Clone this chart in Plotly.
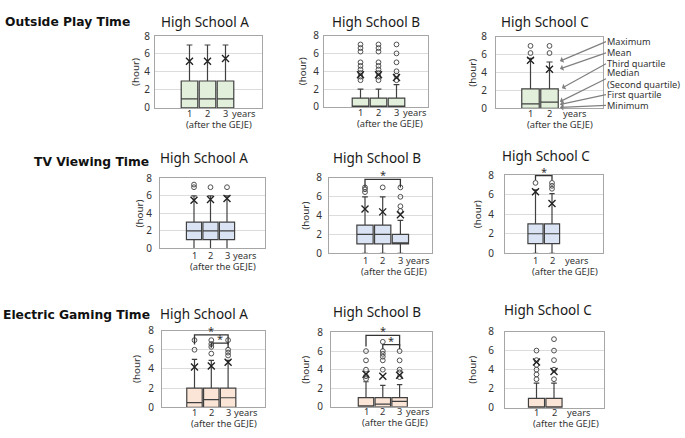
import plotly.graph_objects as go

W, H = 685, 438

# ---------------- data ----------------
row_titles = ["Outside Play Time", "TV Viewing Time", "Electric Gaming Time"]
school_names = ["High School A", "High School B", "High School C"]
years_per_school = [[1, 2, 3], [1, 2, 3], [1, 2]]

# Outside play time (hours); one inner list per school, one value per year
play_low = [[0, 0, 0], [0, 0, 0], [0, 0]]
play_q1 = [[0, 0, 0], [0, 0, 0], [0, 0]]
play_med = [[1, 1, 1], [0, 0, 0], [0.5, 0.7]]
play_q3 = [[3, 3, 3], [1, 1, 1], [2.2, 2.2]]
play_high = [[7, 7, 7], [2, 2, 2.5], [5.6, 5.2]]
play_mean = [[5.2, 5.2, 5.5], [3.6, 3.6, 3.3], [5.4, 4.4]]
play_out = [[[], [], []],
            [[7, 6.6, 6.2, 5, 4.6, 4.2, 3.8, 3.4, 3],
             [7, 6.6, 6.2, 5, 4.6, 4.2, 3.8, 3.4, 3],
             [7, 6, 5, 4, 3.5, 3]],
            [[7, 6.2], [7, 6.2]]]

# TV viewing time (hours)
tv_low = [[0, 0, 0], [0, 0, 0], [0, 0]]
tv_q1 = [[1, 1, 1], [1, 1, 1], [1, 1]]
tv_med = [[2, 2, 2], [2, 2, 1], [2, 2]]
tv_q3 = [[3, 3, 3], [3, 3, 2], [3, 3]]
tv_high = [[6, 6, 6], [6, 6, 3.5], [6.5, 6.1]]
tv_mean = [[5.5, 5.6, 5.7], [4.7, 4.4, 4.1], [6.3, 5.1]]
tv_out = [[[7.3, 7], [7], [7]],
          [[7, 6.8, 6.5], [7], [7, 6, 5, 4.5]],
          [[7.2], [7.2, 6.9, 6.6]]]

# Electric gaming time (hours)
game_low = [[0, 0, 0], [0, 0, 0], [0, 0]]
game_q1 = [[0, 0, 0], [0, 0, 0], [0, 0]]
game_med = [[0.5, 0.8, 1.0], [0, 0.3, 0.6], [0, 0]]
game_q3 = [[2, 2, 2], [1, 1, 1], [1, 1]]
game_high = [[5, 4.9, 4.9], [2.7, 2.3, 2.4], [2.6, 2.6]]
game_mean = [[4.2, 4.3, 4.7], [3.5, 3.3, 3.4], [4.8, 3.8]]
game_out = [[[7, 6], [7, 6.6, 6.3, 5.6], [7, 6, 5.7, 5.4]],
            [[6, 5, 4, 3.3, 3], [7, 6, 5.7, 5.4, 5, 4], [6, 5, 4, 3.7, 3.2]],
            [[6, 5, 4.5, 4, 3.5, 3], [7.2, 6, 5, 4, 3]]]

# significance brackets: (row, school, year from, year to, bracket level, leg end)
sig_brackets = [
    (1, 1, 1, 3, 7.85, 7.0),
    (1, 2, 1, 2, 7.95, 7.5),
    (2, 0, 1, 3, 7.55, 6.55),
    (2, 0, 2, 3, 6.7, 6.2),
    (2, 1, 1, 3, 7.7, 6.5),
    (2, 1, 2, 3, 6.7, 6.2),
]

y_ticks = [0, 2, 4, 6, 8]

# labels explaining the box elements (pointing at High School C, year 2)
explain_labels = ["Maximum", "Mean", "Third quartile", "Median<br>(Second quartile)",
                  "First quartile", "Minimum"]

rows = [
    (play_low, play_q1, play_med, play_q3, play_high, play_mean, play_out),
    (tv_low, tv_q1, tv_med, tv_q3, tv_high, tv_mean, tv_out),
    (game_low, game_q1, game_med, game_q3, game_high, game_mean, game_out),
]
fills = ["#e2efda", "#dae3f3", "#fbe5d6"]

# ---------------- layout geometry (pixels) ----------------
# left, right, top (8 h), bottom (0 h), centre of year 1, spacing per year
geo = {
    (0, 0): (155, 262, 29, 103.5, 189.5, 18),
    (0, 1): (324, 428, 28.5, 102.5, 360.5, 18),
    (0, 2): (496, 603, 30, 104, 530.5, 19),
    (1, 0): (160, 265, 176.5, 249, 194, 16.5),
    (1, 1): (329, 432, 176, 254, 365, 17.7),
    (1, 2): (505, 603, 173, 254, 535.5, 16.5),
    (2, 0): (162, 265, 334, 413.5, 194.5, 16.8),
    (2, 1): (331, 432, 336, 413, 366, 16.8),
    (2, 2): (505, 604, 335, 414, 536.5, 17.5),
}
title_pos = {
    (0, 0): (205, 15), (0, 1): (376, 15), (0, 2): (545, 15),
    (1, 0): (204, 155), (1, 1): (377, 155), (1, 2): (545.5, 153),
    (2, 0): (204, 317), (2, 1): (376.5, 315), (2, 2): (547.5, 313),
}
hour_x = {
    (0, 0): 136, (0, 1): 302, (0, 2): 473,
    (1, 0): 139, (1, 1): 306, (1, 2): 477,
    (2, 0): 137, (2, 1): 306, (2, 2): 473,
}
tick_gap = {
    (0, 0): 2, (0, 1): 2, (0, 2): 6,
    (1, 0): 5, (1, 1): 4, (1, 2): 8,
    (2, 0): 5, (2, 1): 5, (2, 2): 8,
}
xlab_dy = {0: 5.5, 1: 7.5, 2: 5}
gej_dy = {0: 17, 1: 19, 2: 16.5}


def px(x):
    return x / W


def py(y):
    return 1 - y / H


FONT = "Noto Sans"
TXT = "#333"
fig = go.Figure()
annotations = []
layout = {}

for r in range(3):
    low, q1, med, q3, high, mean, out = rows[r]
    for c in range(3):
        k = r * 3 + c + 1
        xa = "x" if k == 1 else f"x{k}"
        ya = "y" if k == 1 else f"y{k}"
        left, right, top, bottom, c1, sp = geo[(r, c)]
        yrs = years_per_school[c]
        xr = [1 - (c1 - left) / sp, 1 + (right - c1) / sp]

        layout["xaxis" if k == 1 else f"xaxis{k}"] = dict(
            domain=[px(left), px(right)], range=xr, anchor=ya,
            showticklabels=False,
            showgrid=False, zeroline=False, showline=True, mirror=True,
            linecolor="#a6a6a6", linewidth=1, ticks="", fixedrange=True)
        layout["yaxis" if k == 1 else f"yaxis{k}"] = dict(
            domain=[py(bottom), py(top)], range=[0, 8], anchor=xa,
            tickvals=y_ticks, tickfont=dict(size=10, family=FONT, color=TXT),
            showgrid=True, gridcolor="#dcdcdc", gridwidth=1, zeroline=False,
            showline=True, mirror=True, linecolor="#a6a6a6", linewidth=1,
            ticks="", ticklabelstandoff=tick_gap[(r, c)], fixedrange=True)

        fig.add_trace(go.Box(
            x=yrs, q1=q1[c], median=med[c], q3=q3[c],
            lowerfence=low[c], upperfence=high[c],
            width=0.92, whiskerwidth=0.35, boxpoints=False,
            fillcolor=fills[r], line=dict(color="#404040", width=1.2),
            xaxis=xa, yaxis=ya, showlegend=False, hoverinfo="skip"))

        ox, oy = [], []
        for yi, yr in enumerate(yrs):
            for v in out[c][yi]:
                ox.append(yr)
                oy.append(v)
        if ox:
            fig.add_trace(go.Scatter(
                x=ox, y=oy, mode="markers", xaxis=xa, yaxis=ya,
                marker=dict(symbol="circle-open", size=4.8, color="#505050",
                            line=dict(width=1, color="#505050")),
                showlegend=False, hoverinfo="skip"))
        fig.add_trace(go.Scatter(
            x=yrs, y=mean[c], mode="markers", xaxis=xa, yaxis=ya,
            marker=dict(symbol="x-thin", size=7, color="#222",
                        line=dict(width=1.4, color="#222")),
            showlegend=False, hoverinfo="skip"))

        # titles
        tx, ty = title_pos[(r, c)]
        annotations.append(dict(
            text=school_names[c], x=px(tx), y=py(ty), xref="paper", yref="paper",
            showarrow=False, xanchor="center", yanchor="middle",
            font=dict(size=13.5, family=FONT, color="#1a1a1a")))
        annotations.append(dict(
            text="(hour)", x=px(hour_x[(r, c)]), y=py((top + bottom) / 2),
            xref="paper", yref="paper", showarrow=False, textangle=-90,
            xanchor="center", yanchor="middle", borderpad=0,
            font=dict(size=9.8, family=FONT, color=TXT)))
        # year tick labels
        for yr in yrs:
            annotations.append(dict(
                text=str(yr), x=yr, y=py(bottom + xlab_dy[r]), xref=xa, yref="paper",
                showarrow=False, xanchor="center", yanchor="middle", borderpad=0,
                font=dict(size=9.3, family=FONT, color=TXT)))
        last = yrs[-1]
        shift = 5 if len(yrs) == 3 else 12
        annotations.append(dict(
            text="years", x=last, y=py(bottom + xlab_dy[r]), xref=xa, yref="paper",
            xshift=shift, showarrow=False, xanchor="left", yanchor="middle",
            borderpad=0, font=dict(size=9.3, family=FONT, color=TXT)))
        annotations.append(dict(
            text="(after the GEJE)", x=1, y=py(bottom + gej_dy[r]), xref=xa, yref="paper",
            xshift=-5, showarrow=False, xanchor="left", yanchor="middle",
            borderpad=0, font=dict(size=9.3, family=FONT, color=TXT)))

# significance brackets
for (r, c, a, b, lvl, leg) in sig_brackets:
    k = r * 3 + c + 1
    xa = "x" if k == 1 else f"x{k}"
    ya = "y" if k == 1 else f"y{k}"
    fig.add_trace(go.Scatter(
        x=[a, a, b, b], y=[leg, lvl, lvl, leg], mode="lines", xaxis=xa, yaxis=ya,
        line=dict(color="#333", width=1.3), showlegend=False, hoverinfo="skip"))
    annotations.append(dict(
        text="*", x=(a + b) / 2, y=lvl, xref=xa, yref=ya, showarrow=False,
        xanchor="center", yanchor="bottom", yshift=-5,
        font=dict(size=11, family=FONT, color="#333")))

# row headings
HFONT = dict(size=12.3, family="DejaVu Sans", color="#111")
annotations.append(dict(text="<b>" + row_titles[0] + "</b>", x=px(3), y=py(14),
                        xref="paper", yref="paper", showarrow=False,
                        xanchor="left", yanchor="middle", font=HFONT))
annotations.append(dict(text="<b>" + row_titles[1] + "</b>", x=px(151), y=py(159),
                        xref="paper", yref="paper", showarrow=False,
                        xanchor="right", yanchor="middle", font=HFONT))
annotations.append(dict(text="<b>" + row_titles[2] + "</b>", x=px(1), y=py(318),
                        xref="paper", yref="paper", showarrow=False,
                        xanchor="left", yanchor="middle", font=HFONT))

# explanation arrows (High School C, outside play)
heads = [(560, 55), (560, 63), (562, 83), (560, 97), (560, 100), (560, 103)]
tails = [(606, 35.5), (606, 47), (606, 58.5), (606, 74), (606, 90), (606, 101)]
for lab, (hx, hy), (tx, ty) in zip(explain_labels, heads, tails):
    annotations.append(dict(
        text=lab, x=px(hx), y=py(hy), xref="paper", yref="paper",
        showarrow=True, ax=tx - hx, ay=ty - hy, axref="pixel", ayref="pixel",
        xanchor="left", yanchor="middle", align="left", borderpad=0,
        arrowhead=1, arrowsize=0.9, arrowwidth=1.2, arrowcolor="#808080",
        font=dict(size=9.2, family=FONT, color=TXT)))

fig.update_layout(
    width=W, height=H, margin=dict(l=0, r=0, t=0, b=0),
    paper_bgcolor="white", plot_bgcolor="white",
    annotations=annotations, **layout)

fig.write_html("out.html",
               config={"displayModeBar": False, "staticPlot": True},
               post_script="document.body.style.margin='0px';"
                           "document.body.style.overflow='hidden';")
